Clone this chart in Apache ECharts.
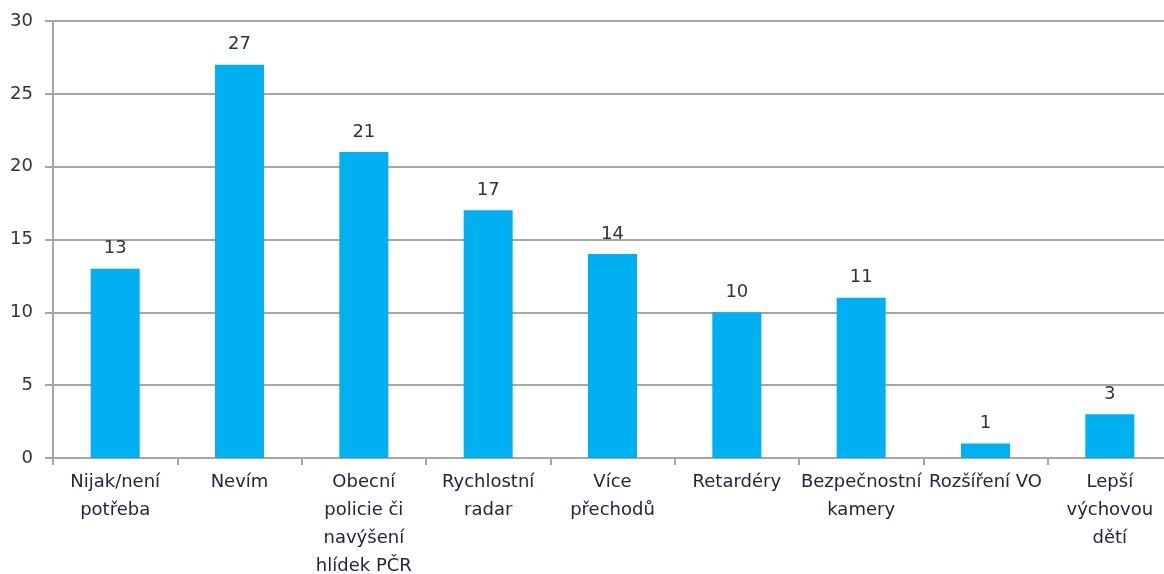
<!DOCTYPE html>
<html>
<head>
<meta charset="utf-8">
<script src="https://cdn.jsdelivr.net/npm/echarts@6/dist/echarts.min.js"></script>
<style>
  html, body { margin: 0; padding: 0; background: #fff; }
  #chart { width: 1164px; height: 574px; }
</style>
</head>
<body>
<div id="chart"></div>
<script>
const categories = [
  'Nijak/není\npotřeba',
  'Nevím',
  'Obecní\npolicie či\nnavýšení\nhlídek PČR',
  'Rychlostní\nradar',
  'Více\npřechodů',
  'Retardéry',
  'Bezpečnostní\nkamery',
  'Rozšíření VO',
  'Lepší\nvýchovou\ndětí'
]
const values = [13, 27, 21, 17, 14, 10, 11, 1, 3]

const chart = echarts.init(document.getElementById('chart'))
chart.setOption({
  animation: false,
  textStyle: { fontFamily: 'DejaVu Sans, sans-serif' },
  grid: { left: 53, right: -8, top: 21, bottom: 116, outerBoundsMode: 'none', containLabel: false },
  xAxis: {
    type: 'category',
    data: categories,
    axisLine: { lineStyle: { color: '#a6a6a6', width: 2 } },
    axisTick: { show: true, length: 7, lineStyle: { color: '#a6a6a6', width: 2 } },
    axisLabel: {
      interval: 0,
      color: '#2b2040',
      fontSize: 18,
      lineHeight: 28,
      margin: 10
    }
  },
  yAxis: {
    type: 'value',
    min: 0,
    max: 30,
    interval: 5,
    axisLine: { show: true, lineStyle: { color: '#a6a6a6', width: 2 } },
    axisTick: { show: true, length: 8, lineStyle: { color: '#a6a6a6', width: 2 } },
    axisLabel: { color: '#333', fontSize: 18, margin: 20 },
    splitLine: { lineStyle: { color: '#a6a6a6', width: 2 } }
  },
  series: [{
    type: 'bar',
    data: values,
    barWidth: 49,
    itemStyle: { color: '#00b0f0' },
    label: {
      show: true,
      position: 'top',
      color: '#333',
      fontSize: 18,
      distance: 11
    }
  }]
})
</script>
</body>
</html>
